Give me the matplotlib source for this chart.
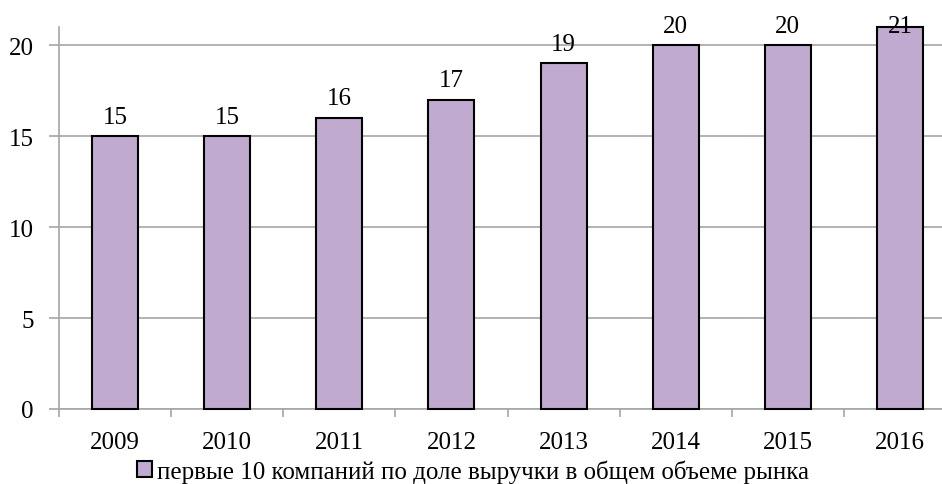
import matplotlib.pyplot as plt
import numpy as np

# Share of top-10 companies in market revenue, by year
years = ['2009', '2010', '2011', '2012', '2013', '2014', '2015', '2016']
shares = [15, 15, 16, 17, 19, 20, 20, 21]
series_label = 'первые 10 компаний по доле выручки в общем объеме рынка'

bar_color = '#C0AACF'
grid_color = '#A6A6A6'

plt.rcParams['font.family'] = ['Liberation Serif', 'DejaVu Serif']

fig = plt.figure(figsize=(9.42, 4.85), dpi=100)
ax = fig.add_axes([59 / 942, 75 / 485, 897 / 942, 382 / 485])

x = np.arange(len(years))
ax.bar(x, shares, width=0.41, color=bar_color, edgecolor='black', linewidth=1.5,
       zorder=3, label=series_label, clip_on=False)

ymax = 21
ax.set_ylim(0, ymax)
ax.set_xlim(-0.5, len(years) - 0.5)

# value labels above bars, pulled down when they would leave the plot area
for xi, v in zip(x, shares):
    ty = min(v + 0.75, 20.75)
    ax.text(xi, ty, str(v), ha='center', va='baseline', fontsize=18, zorder=4,
            clip_on=False)

ax.set_yticks([0, 5, 10, 15, 20])
ax.yaxis.grid(True, color=grid_color, linewidth=1.2, zorder=0)
ax.tick_params(axis='y', length=7, width=1.2, color=grid_color, labelsize=18, pad=11)

# category labels centred, tick marks between categories
ax.set_xticks(x)
ax.set_xticklabels(years)
ax.set_xticks(np.arange(len(years) + 1) - 0.5, minor=True)
ax.tick_params(axis='x', which='major', length=0, labelsize=18, pad=16)
ax.tick_params(axis='x', which='minor', length=6, width=1.2, color=grid_color)

for side in ['top', 'right']:
    ax.spines[side].set_visible(False)
for side in ['left', 'bottom']:
    ax.spines[side].set_color(grid_color)
    ax.spines[side].set_linewidth(1.2)

fig.legend(loc='center', bbox_to_anchor=(0.502, 1 - 472 / 485), frameon=False,
           fontsize=18, handlelength=0.6, handleheight=0.6, handletextpad=0.2,
           borderaxespad=0)

fig.savefig('out.png', dpi=100)
